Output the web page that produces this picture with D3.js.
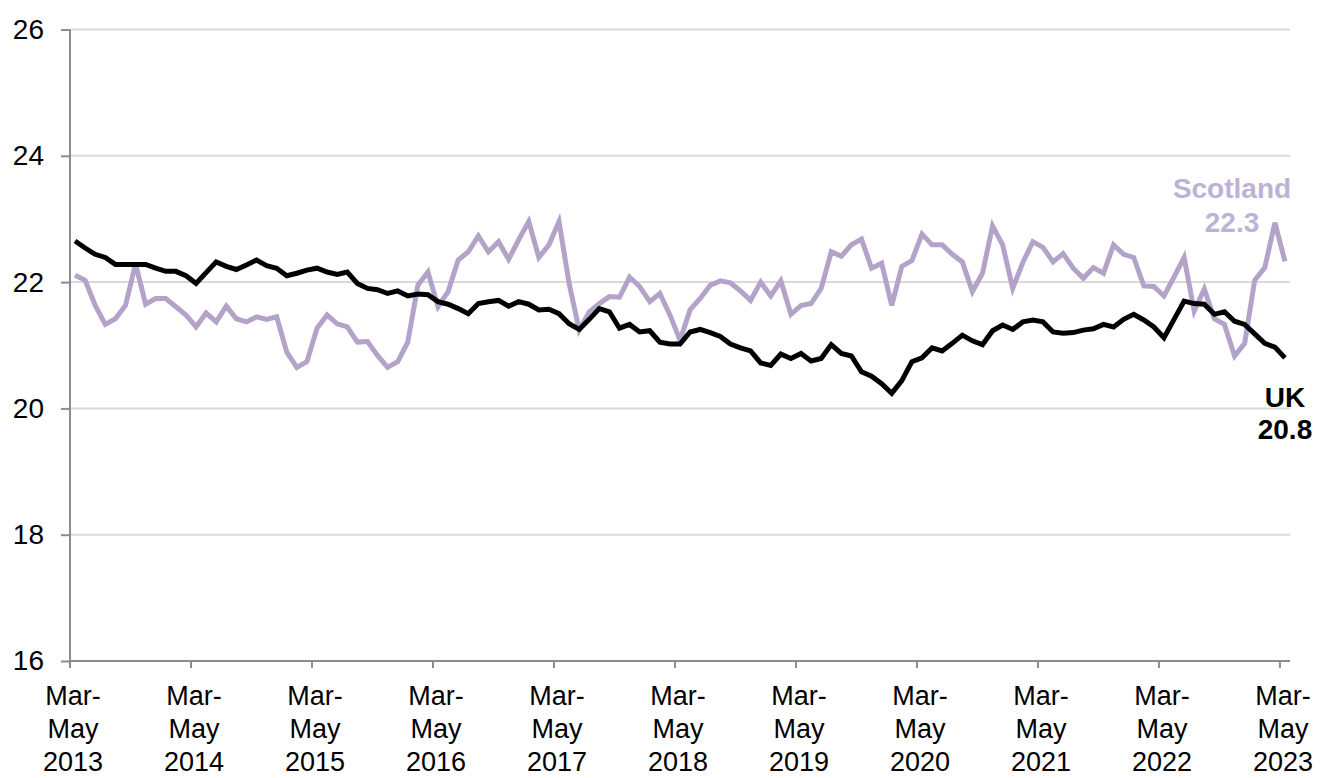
<html>
 <head>
  <meta charset="utf-8">
  <title>UK and Scotland</title>
  <script src="https://cdn.jsdelivr.net/npm/d3@7/dist/d3.min.js"></script>
  <style>
    body {
        margin: 0;
        background: #fff;
        font-family: "Liberation Sans", Arial, Helvetica, sans-serif;
    }
    #draw svg {
        display: block;
    }
  </style>
 </head>
 <body>
  <div id="draw"></div>
  <script>
    // rolling three-month periods, Mar-May 2013 to Mar-May 2023
    var months = ["Jan", "Feb", "Mar", "Apr", "May", "Jun", "Jul", "Aug", "Sep", "Oct", "Nov", "Dec"];
    var periods = [];
    for (var k = 0; k < 121; k++) {
      var m = (2 + k) % 12;
      var yr = 2013 + Math.floor((2 + k) / 12);
      periods.push(months[m] + "-" + months[(m + 2) % 12] + " " + yr);
    }

    var tickYears = ["2013", "2014", "2015", "2016", "2017", "2018", "2019", "2020", "2021", "2022", "2023"];
    var yTicks = [16, 18, 20, 22, 24, 26];

    var ukValues = [
      22.65, 22.54, 22.44, 22.39, 22.28, 22.28, 22.28, 22.28, 22.22, 22.17, 22.17, 22.10,
      21.98, 22.15, 22.32, 22.25, 22.20, 22.27, 22.35, 22.26, 22.22, 22.10, 22.14, 22.19,
      22.22, 22.16, 22.12, 22.16, 21.98, 21.90, 21.88, 21.82, 21.86, 21.78, 21.81, 21.80,
      21.69, 21.65, 21.58, 21.50, 21.66, 21.69, 21.71, 21.62, 21.69, 21.65, 21.56, 21.57,
      21.50, 21.34, 21.25, 21.41, 21.58, 21.53, 21.27, 21.33, 21.21, 21.23, 21.05, 21.02,
      21.02, 21.21, 21.25, 21.20, 21.14, 21.02, 20.96, 20.91, 20.72, 20.68, 20.86, 20.79,
      20.87, 20.75, 20.79, 21.01, 20.87, 20.83, 20.58, 20.51, 20.39, 20.24, 20.44, 20.74,
      20.80, 20.96, 20.91, 21.03, 21.16, 21.07, 21.01, 21.23, 21.32, 21.25, 21.37, 21.40,
      21.37, 21.21, 21.19, 21.20, 21.24, 21.26, 21.33, 21.29, 21.41, 21.49, 21.40, 21.29,
      21.12, 21.41, 21.70, 21.66, 21.65, 21.49, 21.53, 21.38, 21.33, 21.18, 21.03, 20.97,
      20.80
    ];

    var scotlandValues = [
      22.11, 22.03, 21.63, 21.33, 21.42, 21.63, 22.29, 21.65, 21.74, 21.74, 21.61, 21.48,
      21.29, 21.51, 21.37, 21.62, 21.42, 21.37, 21.45, 21.41, 21.45, 20.89, 20.65, 20.74,
      21.27, 21.48, 21.34, 21.29, 21.05, 21.06, 20.84, 20.65, 20.74, 21.05, 21.95, 22.16,
      21.61, 21.85, 22.35, 22.48, 22.73, 22.48, 22.64, 22.36, 22.67, 22.96, 22.39, 22.59,
      22.96, 21.98, 21.24, 21.53, 21.66, 21.77, 21.76, 22.08, 21.93, 21.69, 21.82, 21.48,
      21.08, 21.56, 21.74, 21.95, 22.02, 21.99, 21.86, 21.71, 22.00, 21.78, 22.02, 21.49,
      21.63, 21.66, 21.90, 22.48, 22.41, 22.59, 22.68, 22.22, 22.30, 21.63, 22.25, 22.34,
      22.76, 22.59, 22.59, 22.44, 22.32, 21.85, 22.14, 22.89, 22.59, 21.90, 22.31, 22.64,
      22.55, 22.32, 22.45, 22.22, 22.06, 22.23, 22.14, 22.59, 22.44, 22.39, 21.94, 21.93,
      21.78, 22.08, 22.39, 21.54, 21.89, 21.42, 21.33, 20.83, 21.03, 22.03, 22.23, 22.94,
      22.33
    ];

    var w = 1321, h = 778;
    var svg = d3.select("#draw").append("svg").attr("width", w).attr("height", h);

    var x = d3.scaleBand().domain(periods).range([70, 1290]).padding(0);
    var y = d3.scaleLinear().domain([16, 26]).range([661, 29.5]);
    var mid = function(p) { return x(p) + x.bandwidth() / 2; };

    // gridlines
    svg.append("g").selectAll("line").data(yTicks.slice(1)).enter().append("line")
      .attr("x1", 70).attr("x2", 1290)
      .attr("y1", function(d) { return y(d); })
      .attr("y2", function(d) { return y(d); })
      .attr("stroke", "#d9d9d9").attr("stroke-width", 2);

    // y axis
    var yAxis = svg.append("g").attr("transform", "translate(70,0)")
      .call(d3.axisLeft(y).tickValues(yTicks).tickSize(9).tickPadding(17).tickFormat(d3.format("d")));
    yAxis.select(".domain").attr("stroke", "#8c8c8c").attr("stroke-width", 2)
      .attr("d", "M0," + y(26) + "V" + y(16));
    yAxis.selectAll(".tick line").attr("stroke", "#8c8c8c").attr("stroke-width", 2);
    yAxis.selectAll(".tick text").attr("fill", "#000").attr("font-size", 28)
      .attr("font-family", "'Liberation Sans', Arial, sans-serif");

    // x axis
    var tickPeriods = periods.filter(function(p, i) { return i % 12 === 0; });
    svg.append("line").attr("x1", 70).attr("x2", 1290).attr("y1", 661).attr("y2", 661)
      .attr("stroke", "#8c8c8c").attr("stroke-width", 2);
    svg.append("g").selectAll("line").data(tickPeriods).enter().append("line")
      .attr("x1", function(d) { return x(d); }).attr("x2", function(d) { return x(d); })
      .attr("y1", 661).attr("y2", 668)
      .attr("stroke", "#8c8c8c").attr("stroke-width", 2);

    var xl = svg.append("g").selectAll("text").data(tickPeriods).enter().append("text")
      .attr("x", function(d) { return mid(d) - 2; })
      .attr("text-anchor", "middle").attr("font-size", 27).attr("fill", "#000");
    xl.append("tspan").attr("x", function(d) { return mid(d) - 2; }).attr("y", 705).text("Mar-");
    xl.append("tspan").attr("x", function(d) { return mid(d) - 2; }).attr("y", 738).text("May");
    xl.append("tspan").attr("x", function(d) { return mid(d) - 2; }).attr("y", 771)
      .text(function(d, i) { return tickYears[i]; });

    // lines
    var line = d3.line()
      .x(function(d, i) { return mid(periods[i]); })
      .y(function(d) { return y(d); });

    svg.append("path").datum(scotlandValues).attr("d", line)
      .attr("fill", "none").attr("stroke", "#b3a3c9").attr("stroke-width", 5)
      .attr("stroke-linejoin", "miter");
    svg.append("path").datum(ukValues).attr("d", line)
      .attr("fill", "none").attr("stroke", "#000").attr("stroke-width", 5)
      .attr("stroke-linejoin", "miter");

    // end labels
    var last = periods[periods.length - 1];
    svg.append("text").attr("x", 1232).attr("y", 198).attr("text-anchor", "middle")
      .attr("font-size", 28).attr("font-weight", "bold").attr("fill", "#bdb2d5").text("Scotland");
    svg.append("text").attr("x", 1232).attr("y", 231.5).attr("text-anchor", "middle")
      .attr("font-size", 28).attr("font-weight", "bold").attr("fill", "#bdb2d5")
      .text(d3.format(".1f")(scotlandValues[scotlandValues.length - 1]));
    svg.append("text").attr("x", mid(last)).attr("y", 406.5).attr("text-anchor", "middle")
      .attr("font-size", 28).attr("font-weight", "bold").attr("fill", "#000").text("UK");
    svg.append("text").attr("x", mid(last)).attr("y", 439).attr("text-anchor", "middle")
      .attr("font-size", 28).attr("font-weight", "bold").attr("fill", "#000")
      .text(d3.format(".1f")(ukValues[ukValues.length - 1]));
  </script>
 </body>
</html>
